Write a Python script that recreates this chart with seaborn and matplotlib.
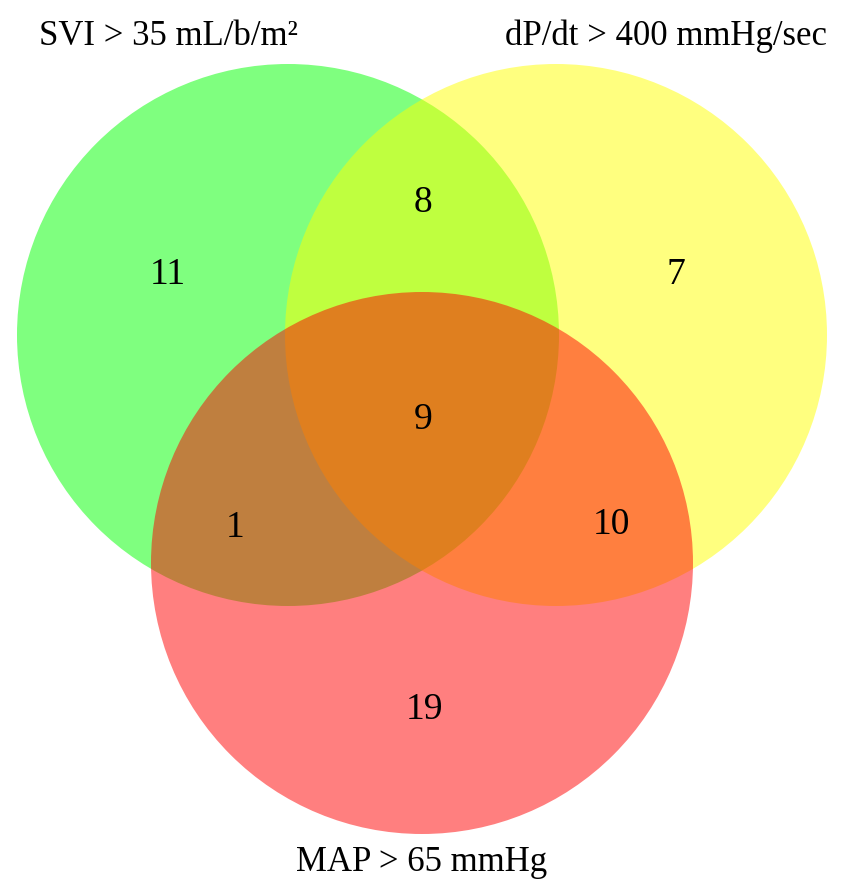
import matplotlib.pyplot as plt
import matplotlib.patches as mpatches
import seaborn as sns

# Venn data
set_names = ["SVI > 35 mL/b/m²", "dP/dt > 400 mmHg/sec", "MAP > 65 mmHg"]
set_colors = ["#00ff00", "#ffff00", "#ff0000"]
region_names = ["SVI only", "dP/dt only", "SVI & dP/dt", "all three", "SVI & MAP", "dP/dt & MAP", "MAP only"]
region_counts = [11, 7, 8, 9, 1, 10, 19]

# Layout (pixels, y down)
circle_centers = [(288, 335), (556, 335), (422, 563)]
radius = 271
label_pos = [(168, 45), (666, 45), (422, 871)]
count_pos = [(168, 284), (676, 284), (423, 212), (423, 429), (235, 537), (611, 534), (424, 719)]

sns.set_theme(style="white")
plt.rcParams["font.family"] = ["Liberation Serif", "DejaVu Serif"]

fig = plt.figure(figsize=(8.46, 8.93), dpi=100)
ax = fig.add_axes([0, 0, 1, 1])
ax.set_xlim(0, 846)
ax.set_ylim(893, 0)
ax.set_aspect("equal")
ax.axis("off")

for (cx, cy), col in zip(circle_centers, set_colors):
    ax.add_patch(mpatches.Circle((cx, cy), radius, facecolor=col, alpha=0.5, edgecolor="none"))

for name, (x, y) in zip(set_names, label_pos):
    ax.text(x, y, name, ha="center", va="baseline", fontsize=25, color="black")

for n, (x, y) in zip(region_counts, count_pos):
    ax.text(x, y, str(n), ha="center", va="baseline", fontsize=27, color="black")

fig.savefig("out.png", dpi=100, facecolor="white")
